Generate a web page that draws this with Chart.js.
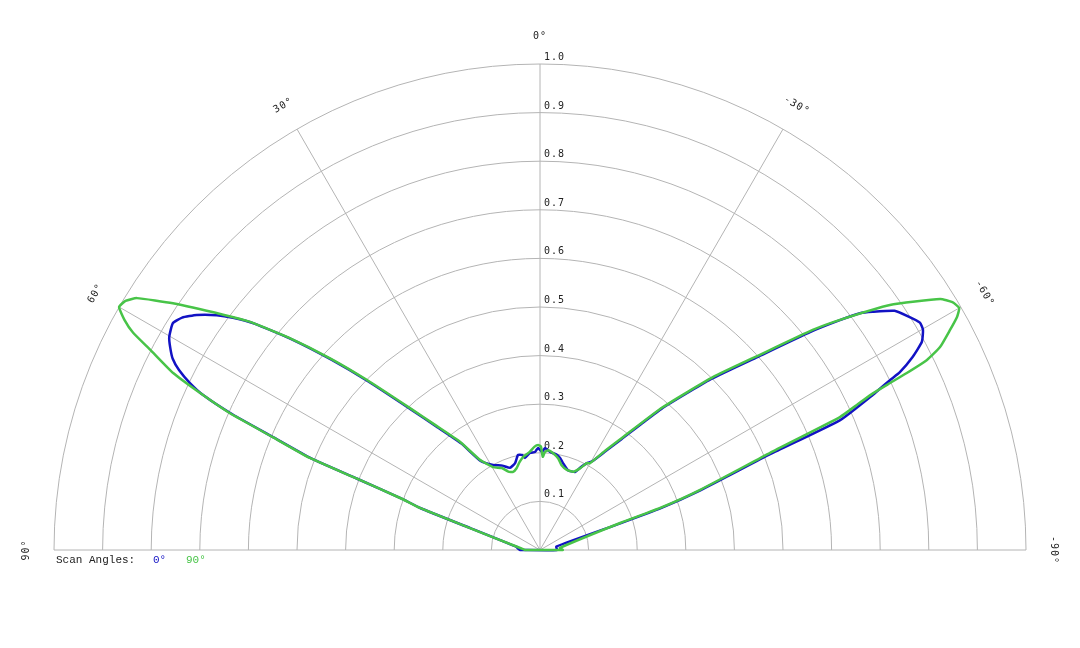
<!DOCTYPE html>
<html><head><meta charset="utf-8">
<script src="https://cdn.jsdelivr.net/npm/chart.js@4/dist/chart.umd.min.js"></script>
<style>html,body{margin:0;padding:0;background:#fff;}canvas{display:block}</style>
</head><body>
<canvas id="c" width="1080" height="648"></canvas>
<script>
// ---- data ----
const ringValues = [0.1,0.2,0.3,0.4,0.5,0.6,0.7,0.8,0.9,1.0];
const ringLabels = ['0.1','0.2','0.3','0.4','0.5','0.6','0.7','0.8','0.9','1.0'];
const spokeAngles = [90,60,30,0,-30,-60,-90];
const spokeLabels = ['90°','60°','30°','0°','-30°','-60°','-90°'];
const legendTitle = 'Scan Angles:';
const seriesNames = ['0°','90°'];

// angle in degrees (positive = left of 0°), normalized amplitude
const blueAngles = [90,86,82.6,72.6,70.7,69.6,68.7,68.2,67.1,66.2,65.3,64.5,63.5,62.5,61.25,60.1,58.3,57,55.6,54,52.9,51.6,49.7,47.6,45.5,42.5,40,36.5,33.7,28.9,24,20.1,16,13,10.7,9.3,5.9,2.9,1.1,-1.2,-2.8,-5.8,-10.1,-12.3,-14.8,-19.3,-24.2,-26,-28.4,-30.5,-33.4,-36.3,-40.7,-45,-48.4,-51.1,-52.5,-53.5,-54.4,-56,-57.6,-59.1,-60.1,-61.4,-62.6,-63.7,-64.1,-65,-66.6,-67.4,-69.6,-70.9,-71.6,-78,-90];
const blueValues = [0.041,0.046,0.048,0.150,0.260,0.305,0.405,0.506,0.594,0.692,0.763,0.798,0.830,0.852,0.868,0.880,0.888,0.878,0.856,0.822,0.792,0.750,0.671,0.580,0.494,0.391,0.331,0.273,0.220,0.200,0.190,0.180,0.186,0.201,0.199,0.192,0.201,0.202,0.210,0.202,0.210,0.203,0.199,0.194,0.185,0.174,0.176,0.188,0.203,0.212,0.242,0.283,0.383,0.497,0.598,0.714,0.776,0.819,0.842,0.880,0.897,0.911,0.909,0.895,0.864,0.826,0.801,0.756,0.673,0.514,0.352,0.262,0.174,0.034,0.035];

const greenAngles = [90,88,84.3,72.6,70.7,69.6,68.7,68.2,67.1,66.2,65.2,64.25,62.8,61.9,61,60,59,58,56.1,53.4,51.8,49.8,47.6,45.5,42.5,40,36.5,33.7,29.5,25,22,19,16,13,10,6,3,1,-0.5,-1.7,-2.9,-4.8,-7.8,-11.3,-14.3,-18.5,-23,-26.1,-28.3,-29.9,-33.4,-36.3,-40.7,-45,-48.4,-51.1,-52.5,-55,-57.9,-59,-60,-60.8,-61.8,-63.1,-63.85,-64.25,-64.5,-64.8,-65.4,-66.1,-67.1,-69.4,-70.7,-71.4,-84,-88,-90];
const greenValues = [0.031,0.034,0.041,0.151,0.262,0.307,0.408,0.510,0.597,0.697,0.771,0.838,0.902,0.949,0.978,1.0,0.995,0.978,0.910,0.812,0.759,0.677,0.585,0.499,0.396,0.336,0.277,0.223,0.196,0.186,0.174,0.170,0.175,0.186,0.195,0.203,0.213,0.216,0.213,0.192,0.202,0.206,0.201,0.192,0.180,0.174,0.175,0.187,0.203,0.206,0.246,0.288,0.388,0.503,0.605,0.721,0.778,0.879,0.972,0.990,0.996,0.983,0.957,0.923,0.887,0.838,0.798,0.757,0.717,0.675,0.514,0.352,0.262,0.174,0.041,0.045,0.047];

// ---- helpers ----
const BLUE = '#1212c4', GREEN = '#48c448';
function toXY(angles, values){
  const pts = angles.map((a,i)=>{
    const t = a*Math.PI/180;
    return {x: -values[i]*Math.sin(t), y: values[i]*Math.cos(t)};
  });
  pts.push({...pts[0]}); // close the trace
  return pts;
}
const R_PX = 486, CX = 540, CY = 550, W = 1080, H = 648;

const polarGrid = {
  id:'polarGrid',
  beforeDatasetsDraw(chart){
    const ctx = chart.ctx, xs = chart.scales.x, ys = chart.scales.y;
    const cx = xs.getPixelForValue(0), cy = ys.getPixelForValue(0);
    const unit = xs.getPixelForValue(1) - cx;
    ctx.save();
    ctx.strokeStyle = '#b4b4b4'; ctx.lineWidth = 1;
    ringValues.forEach(v=>{
      ctx.beginPath(); ctx.arc(cx, cy, v*unit, Math.PI, 2*Math.PI); ctx.stroke();
    });
    spokeAngles.forEach(a=>{
      const t = a*Math.PI/180;
      ctx.beginPath(); ctx.moveTo(cx,cy);
      ctx.lineTo(cx - unit*Math.sin(t), cy - unit*Math.cos(t)); ctx.stroke();
    });
    ctx.fillStyle = '#222';
    ctx.font = '10px "DejaVu Sans Mono", monospace';
    try { ctx.letterSpacing = '1px'; } catch(e) {}
    ctx.textAlign = 'left'; ctx.textBaseline = 'alphabetic';
    ringValues.forEach((v,i)=>{
      ctx.fillText(ringLabels[i], cx + 4, cy - v*unit - 4);
    });
    ctx.textAlign = 'center'; ctx.textBaseline = 'middle';
    spokeAngles.forEach((a,i)=>{
      const t = a*Math.PI/180, rr = unit*1.056;
      ctx.save();
      ctx.translate(cx - rr*Math.sin(t), cy - rr*Math.cos(t));
      ctx.rotate(-t);
      ctx.fillText(spokeLabels[i], 0, 0);
      ctx.restore();
    });
    // legend
    try { ctx.letterSpacing = '0px'; } catch(e) {}
    ctx.font = '11px "Liberation Mono", monospace';
    ctx.textAlign = 'left'; ctx.textBaseline = 'middle';
    ctx.fillStyle = '#222'; ctx.fillText(legendTitle, 56, 560);
    ctx.fillStyle = BLUE; ctx.fillText(seriesNames[0], 153, 560);
    ctx.fillStyle = GREEN; ctx.fillText(seriesNames[1], 186, 560);
    ctx.restore();
  }
};

new Chart(document.getElementById('c'), {
  type:'scatter',
  data:{datasets:[
    {label:seriesNames[1], data:toXY(greenAngles, greenValues), borderColor:GREEN, borderWidth:2.5, order:0},
    {label:seriesNames[0], data:toXY(blueAngles, blueValues), borderColor:BLUE, borderWidth:2.5, order:1}
  ]},
  options:{
    responsive:false, animation:false, devicePixelRatio:1,
    layout:{padding:0},
    elements:{line:{tension:0.15, fill:false, borderJoinStyle:'round', borderCapStyle:'round'}, point:{radius:0, hoverRadius:0}},
    datasets:{scatter:{showLine:true, pointRadius:0}},
    plugins:{legend:{display:false}, tooltip:{enabled:false}},
    scales:{
      x:{type:'linear', display:false, min:-CX/R_PX, max:(W-CX)/R_PX},
      y:{type:'linear', display:false, min:-(H-CY)/R_PX, max:CY/R_PX}
    }
  },
  plugins:[polarGrid]
});
</script>
</body></html>
